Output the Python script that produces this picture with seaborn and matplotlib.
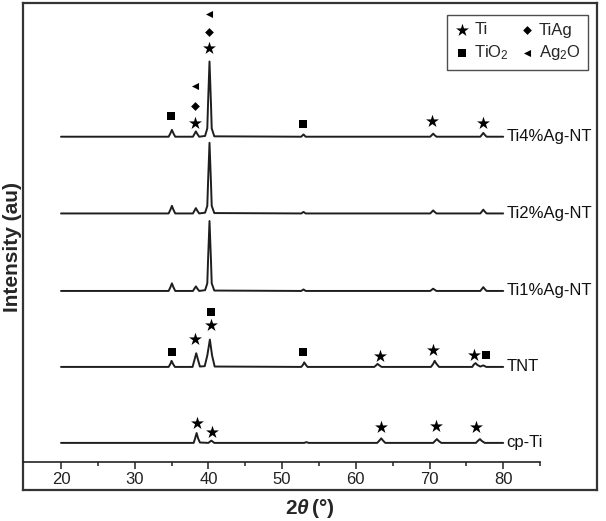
import matplotlib
matplotlib.use('Agg')
import matplotlib.pyplot as plt
import seaborn as sns
from matplotlib.ticker import FixedLocator

# samples, bottom to top, with vertical offsets (au)
samples = ['cp-Ti', 'TNT', 'Ti1%Ag-NT', 'Ti2%Ag-NT', 'Ti4%Ag-NT']
offsets = [0, 100, 200, 302, 403]

# traces: 2theta and intensity above each baseline
cpti_x = [20, 38.0, 38.2, 38.4, 38.6, 38.85, 40.0, 40.4, 40.8, 53.0, 53.3, 53.6,
          62.9, 63.2, 63.45, 63.7, 64.0, 70.5, 70.8, 71.0, 71.25, 71.6,
          76.3, 76.6, 76.85, 77.1, 77.5, 80]
cpti_y = [0, 0, 6, 13, 6, 0.5, 0, 3, 0, 0, 1, 0,
          0, 3, 6, 3, 0, 0, 3, 5, 2.5, 0,
          0, 3, 5, 2.5, 0, 0]

tnt_x = [20, 34.6, 34.85, 35.0, 35.2, 35.45, 37.85, 38.1, 38.35, 38.6, 38.85,
         39.5, 39.85, 40.2, 40.5, 40.85, 52.6, 52.85, 53.0, 53.2, 53.45,
         62.5, 62.75, 62.95, 63.2, 63.5, 70.2, 70.5, 70.7, 70.95, 71.3,
         75.8, 76.0, 76.25, 76.5, 76.9, 77.3, 77.7, 80]
tnt_y = [0, 0, 4, 8, 4, 0, 0, 9, 18, 9, 0.5,
         1, 15, 36, 15, 0.5, 0, 3, 6, 3, 0,
         0, 2, 4, 2, 0, 0, 4, 8, 4, 0,
         0, 3, 5, 2.5, 0.5, 2, 0, 0]

ag_x = [20, 34.6, 34.85, 35.05, 35.25, 35.5, 37.9, 38.1, 38.3, 38.5, 38.75,
        39.55, 39.85, 39.95, 40.15, 40.35, 40.45, 40.8, 52.6, 52.9, 53.2,
        70.1, 70.3, 70.5, 70.7, 70.95, 76.9, 77.1, 77.3, 77.5, 77.75, 80]
ti1_y = [0, 0, 5, 10, 5, 0, 0, 3, 6, 3, 0,
         1, 10, 40, 92, 40, 10, 0.5, 0, 2, 0,
         0, 1.5, 3, 1.5, 0, 0, 2.5, 5, 2.5, 0, 0]
ti2_y = [0, 0, 5, 10, 5, 0, 0, 3.5, 7, 3.5, 0,
         1, 10, 40, 93, 40, 10, 0.5, 0, 2, 0,
         0, 2, 4, 2, 0, 0, 2.5, 5, 2.5, 0, 0]
ti4_y = [0, 0, 4.5, 9, 4.5, 0, 0, 3.5, 7, 3.5, 0,
         1, 11, 43, 99, 43, 11, 0.5, 0, 3, 0,
         0, 2, 4, 2, 0, 0, 2.5, 5, 2.5, 0, 0]

trace_x = [cpti_x, tnt_x, ag_x, ag_x, ag_x]
trace_y = [cpti_y, tnt_y, ti1_y, ti2_y, ti4_y]

# phase markers (2theta, height on the stacked scale)
ti_x = [40.1, 38.2, 70.3, 77.3, 38.2, 40.3, 63.3, 70.5, 76.1, 38.4, 40.5, 63.4, 70.9, 76.3]
ti_y = [520, 421, 424, 421, 137, 155, 114, 122, 116, 26, 14, 21, 22, 21]
tio2_x = [34.9, 52.8, 35.0, 40.3, 52.9, 77.6]
tio2_y = [430, 420, 120, 172, 120, 116]
tiag_x = [40.1, 38.2]
tiag_y = [541, 443]
ag2o_x = [40.1, 38.2]
ag2o_y = [564, 470]

sns.set_theme(style='white')
plt.rcParams['font.family'] = ['Liberation Sans', 'DejaVu Sans']
plt.rcParams['mathtext.fontset'] = 'custom'
plt.rcParams['mathtext.rm'] = 'Liberation Sans'
plt.rcParams['mathtext.it'] = 'Liberation Sans:italic'
plt.rcParams['mathtext.bf'] = 'Liberation Sans:bold'
plt.rcParams['mathtext.bfit'] = 'Liberation Sans:bold:italic'

fig = plt.figure(figsize=(6.06, 5.21), dpi=100)
rect = [23 / 606, 31 / 521, 574 / 606, 487 / 521]

# outer frame
frame = fig.add_axes(rect)
frame.set_xticks([])
frame.set_yticks([])
for s in frame.spines.values():
    s.set_linewidth(1.6)
    s.set_color('#333333')

ax = fig.add_axes(rect, facecolor='none')
line_col = '#1e1e1e'
for name, off, xs, ys in zip(samples, offsets, trace_x, trace_y):
    sns.lineplot(x=xs, y=[v + off for v in ys], ax=ax, color=line_col,
                 linewidth=1.4, estimator=None, legend=False)
    ax.text(80.4, off, name, ha='left', va='center', fontsize=12, color='#111111')

sns.scatterplot(x=ti_x, y=ti_y, marker='*', s=95, color='black', linewidth=0,
                label='Ti', ax=ax)
sns.scatterplot(x=tio2_x, y=tio2_y, marker='s', s=26, color='black', linewidth=0,
                label='TiO$_2$', ax=ax)
sns.scatterplot(x=tiag_x, y=tiag_y, marker='D', s=20, color='black', linewidth=0,
                label='TiAg', ax=ax)
sns.scatterplot(x=ag2o_x, y=ag2o_y, marker='<', s=26, color='black', linewidth=0,
                label='Ag$_2$O', ax=ax)

x_left = 20 - 38 / 7.37
x_right = 20 + 536 / 7.37
ax.set_xlim(x_left, x_right)
ax.set_ylim(-62, 579)

for side in ['left', 'top', 'right']:
    ax.spines[side].set_visible(False)
ax.spines['bottom'].set_position(('axes', 28 / 487))
ax.spines['bottom'].set_bounds(x_left, 85)
ax.spines['bottom'].set_linewidth(1.2)
ax.spines['bottom'].set_color('#222222')
ax.set_yticks([])
ax.xaxis.set_major_locator(FixedLocator([20, 30, 40, 50, 60, 70, 80]))
ax.xaxis.set_minor_locator(FixedLocator([25, 35, 45, 55, 65, 75, 85]))
ax.tick_params(axis='x', which='major', direction='out', length=5, width=1.1,
               pad=2, labelsize=12, bottom=True, colors='#222222')
ax.tick_params(axis='x', which='minor', direction='out', length=3, width=1.1,
               bottom=True, colors='#222222')

ax.set_xlabel(r'$\mathbf{2}\mathbfit{\theta}\,\mathbf{(°)}$', fontsize=15)
ax.xaxis.set_label_coords(0.5, -0.014)
ax.set_ylabel('Intensity (au)', fontsize=15, fontweight='bold')
ax.yaxis.set_label_coords(-0.002, 0.5)

leg = ax.legend(ncol=2, loc='upper right', bbox_to_anchor=(565 / 574, 475 / 487),
                borderaxespad=0, fontsize=12, frameon=True, fancybox=False,
                handletextpad=0.2, columnspacing=0.6, handlelength=1.0,
                borderpad=0.45, labelspacing=0.35)
leg.get_frame().set_edgecolor('#222222')
leg.get_frame().set_linewidth(1.0)

plt.savefig('out.png', dpi=100)
